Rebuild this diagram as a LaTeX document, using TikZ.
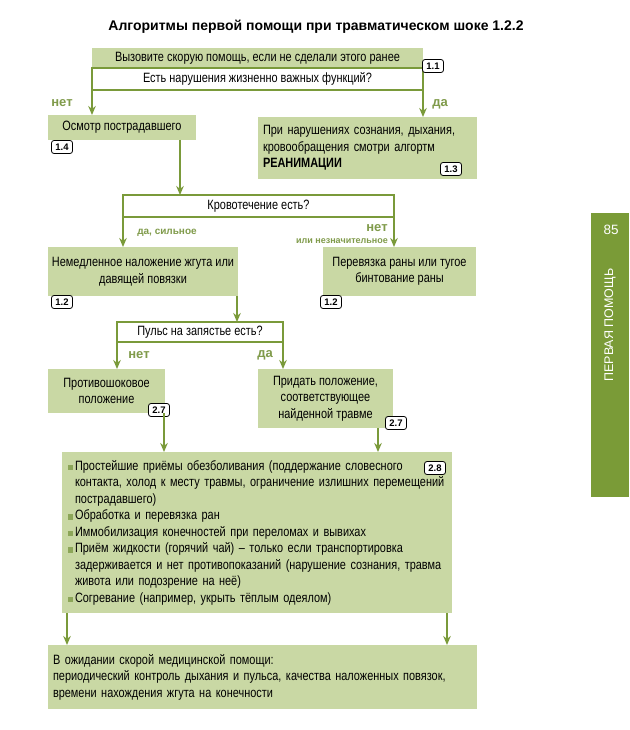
\documentclass[tikz,border=0pt]{standalone}
\usepackage{fontspec}
\setmainfont{Liberation Sans}[FakeStretch=0.81]
\newfontfamily\tabfont{Liberation Sans}
\usetikzlibrary{arrows.meta,positioning}
\definecolor{boxgreen}{RGB}{201,216,164}
\definecolor{linegreen}{RGB}{122,154,58}
\definecolor{tabgreen}{RGB}{122,155,55}
\definecolor{labelgreen}{RGB}{128,155,75}
\definecolor{bulletgreen}{RGB}{140,166,88}
\newcommand{\sqb}{\makebox[9pt][l]{\hspace*{1.5pt}\textcolor{bulletgreen}{\rule{5.5pt}{5.5pt}}}}
\newcommand{\hng}{\hspace*{9pt}}

\begin{document}
\begin{tikzpicture}[x=1pt, y=-1pt,
  box/.style={fill=boxgreen, align=center, inner sep=0pt, outer sep=0pt, font=\fontsize{13.5}{16.5}\selectfont},
  ask/.style={draw=linegreen, line width=2.5pt, fill=white, align=center, inner sep=0pt, outer sep=0pt, font=\fontsize{13.5}{15}\selectfont},
  badge/.style={draw, thick, fill=white, rounded corners=2.5pt, inner sep=0pt, minimum width=21pt, minimum height=13pt, font=\tabfont\fontsize{9.5}{9.5}\selectfont\bfseries},
  arrow/.style={-{Stealth[length=9pt, width=7.5pt]}, linegreen, line width=1.8pt},
  lbl/.style={text=labelgreen, font=\tabfont\fontsize{13}{13}\selectfont\bfseries}
]
\useasboundingbox (0,0) rectangle (629,730);
\fill[white] (0,0) rectangle (629,730);

% Title
\node[font=\tabfont\fontsize{14}{14}\selectfont\bfseries] (title) at (316, 27) {Алгоритмы\ первой\ помощи\ при\ травматическом\ шоке 1.2.2};

% Start
\node[box, minimum width=331, minimum height=20] (call) at (257.5, 58) {Вызовите скорую помощь, если не сделали этого ранее};
\node[ask, minimum width=331, minimum height=22] (vital) at (257.5, 79) {Есть нарушения жизненно важных функций?};
\node[badge] (b11) at (433, 66) {1.1};

% First branch
\node[box, minimum width=148, minimum height=25] (exam) at (122, 127.5) {Осмотр пострадавшего};
\node[badge] (b14) at (62, 147) {1.4};
\node[box, align=left, text width=209, minimum width=219, minimum height=62] (reanim) at (367.5, 148) {При нарушениях сознания, дыхания,\\кровообращения смотри алгортм\\\textbf{РЕАНИМАЦИИ}};
\node[badge] (b13) at (451, 169) {1.3};

% Bleeding
\node[ask, minimum width=271, minimum height=22] (bleed) at (258.5, 206) {Кровотечение есть?};
\node[box, minimum width=190, minimum height=49] (tourn) at (143, 271.5) {Немедленное наложение жгута или\\давящей повязки};
\node[badge] (b12a) at (62, 302) {1.2};
\node[box, minimum width=153, minimum height=49] (bandage) at (399.5, 271.5) {Перевязка раны или тугое\\бинтование раны};
\node[badge] (b12b) at (331, 302) {1.2};

% Pulse
\node[ask, minimum width=166, minimum height=20] (pulse) at (200, 332) {Пульс на запястье есть?};
\node[box, minimum width=117, minimum height=44] (shock) at (106.5, 391) {Противошоковое\\положение};
\node[badge] (b27a) at (159, 410) {2.7};
\node[box, minimum width=135, minimum height=59] (posture) at (325.5, 398.5) {Придать положение,\\соответствующее\\найденной травме};
\node[badge] (b27b) at (396, 423) {2.7};

% Care
\node[box, align=left, text width=382, minimum width=390, minimum height=161] (care) at (257, 532.5) {\sqb Простейшие приёмы обезболивания (поддержание словесного\\
\hng контакта, холод к месту травмы, ограничение излишних перемещений\\
\hng пострадавшего)\\
\sqb Обработка и перевязка ран\\
\sqb Иммобилизация конечностей при переломах и вывихах\\
\sqb Приём жидкости (горячий чай) -- только если транспортировка\\
\hng задерживается и нет противопоказаний (нарушение сознания, травма\\
\hng живота или подозрение на неё)\\
\sqb Согревание (например, укрыть тёплым одеялом)};
\node[badge] (b28) at (435, 468) {2.8};

% Waiting
\node[box, align=left, text width=419, minimum width=429, minimum height=64] (wait) at (262.5, 677) {В ожидании скорой медицинской помощи:\\периодический контроль дыхания и пульса, качества наложенных повязок,\\времени нахождения жгута на конечности};

% Side tab
\node[fill=tabgreen, minimum width=38, minimum height=284, inner sep=0pt] (tab) at (610, 355) {};
\node[text=white, font=\tabfont\fontsize{13.5}{13.5}\selectfont] (page) at (611, 230) {85};
\node[text=white, rotate=90, font=\tabfont\fontsize{12.5}{12.5}\selectfont] (section) at (610, 325) {ПЕРВАЯ ПОМОЩЬ};

% Labels
\node[lbl] (no1) at (62, 103) {нет};
\node[lbl] (yes1) at (440, 104) {да};
\node[lbl, font=\tabfont\fontsize{10}{10}\selectfont\bfseries] (yes2) at (167, 233) {да, сильное};
\node[lbl] (no2) at (377, 228) {нет};
\node[lbl, font=\tabfont\fontsize{9}{9}\selectfont\bfseries] (no2b) at (342, 241) {или незначительное};
\node[lbl] (no3) at (139, 355) {нет};
\node[lbl] (yes3) at (265, 355) {да};

% Connections
\draw[arrow] (vital.south west) -- (vital.south west |- exam.north);
\draw[arrow] (vital.south east) -- (vital.south east |- reanim.north);
\draw[arrow] ([xshift=-16pt]exam.south east) -- ([xshift=-16pt]exam.south east |- bleed.north);
\draw[arrow] (bleed.south west) -- (bleed.south west |- tourn.north);
\draw[arrow] (bleed.south east) -- (bleed.south east |- bandage.north);
\draw[arrow] ([xshift=-1pt]tourn.south east) -- ([xshift=-1pt]tourn.south east |- pulse.north);
\draw[arrow] (pulse.south west) -- (pulse.south west |- shock.north);
\draw[arrow] (pulse.south east) -- (pulse.south east |- posture.north);
\draw[arrow] ([xshift=-1pt]shock.south east) -- ([xshift=-1pt]shock.south east |- care.north);
\draw[arrow] ([xshift=-15pt]posture.south east) -- ([xshift=-15pt]posture.south east |- care.north);
\draw[arrow] ([xshift=5pt]care.south west) -- ([xshift=5pt]care.south west |- wait.north);
\draw[arrow] ([xshift=-5pt]care.south east) -- ([xshift=-5pt]care.south east |- wait.north);

\end{tikzpicture}
\end{document}
